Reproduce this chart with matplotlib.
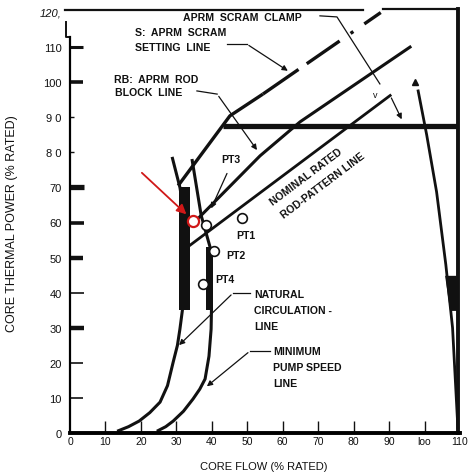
# BWR power/flow map with operating points PT1..PT4
import matplotlib
matplotlib.use('Agg')
import matplotlib.pyplot as plt

plt.rcParams['font.family'] = ['Liberation Sans', 'DejaVu Sans']

# %% Lines (x = core flow %, y = core thermal power %)
natcirc_flow = [13.3, 16.5, 19.5, 22.5, 25.4, 27.5, 29.1, 30.3, 31.0, 31.7, 32.2, 32.3, 31.0, 28.8]
natcirc_power = [0.5, 1.8, 3.4, 5.8, 8.8, 13.5, 20.2, 25.0, 29.6, 35.0, 45.0, 62.0, 70.0, 78.7]

pump_flow = [24.5, 27.0, 29.1, 32.0, 34.7, 36.6, 38.1, 39.2, 39.8, 39.9, 39.5, 37.0, 34.4]
pump_power = [0.5, 1.8, 3.4, 6.2, 9.7, 12.5, 15.4, 21.9, 29.6, 35.0, 53.0, 62.0, 78.1]

scram_flow = [30.5, 45.1, 54.4]
scram_power = [70.5, 90.4, 96.6]
scram_dash_flow = [54.4, 88.3]
scram_dash_power = [96.6, 120.3]

rodblock_flow = [35.5, 53.6, 64.9, 95.9]
rodblock_power = [60.5, 79.0, 88.7, 110.0]

nominal_flow = [32.5, 90.3]
nominal_power = [52.5, 96.2]

highflow_flow = [98.2, 100.6, 103.4, 106.0, 107.9, 109.4]
highflow_power = [97.5, 85.0, 68.7, 48.0, 30.0, 1.5]

clamp_flow = [43.2, 109.3]
clamp_power = [87.4, 87.4]

# thick marks on the lines
bar_flow = [32.3, 39.3]
bar_width = [3.1, 2.0]
bar_low = [35.0, 35.0]
bar_high = [70.0, 53.0]
slant_flow = [105.8, 109.1, 109.7, 107.2]
slant_power = [44.8, 44.8, 34.8, 34.8]

# operating points
pt_names = ['PT1', 'PT2', 'PT3', 'PT4']
pt_flow = [48.5, 40.6, 38.4, 37.5]
pt_power = [61.3, 51.9, 59.3, 42.5]
event_flow = [34.7]
event_power = [60.4]

# axis ticks
xticks = list(range(0, 111, 10))
xtick_labels = ['0', '10', '20', '30', '40', '50', '60', '70', '80', '90', 'loo', '110']
yticks = list(range(0, 121, 10))
ytick_labels = ['0', '10', '20', '30', '40', '50', '60', '70', '8 0', '9 0', '100', '110', '120,']

# %% Plot
ink = '#111111'
fs = 7.6
fw = 'bold'

fig = plt.figure(figsize=(4.68, 4.77), dpi=100)
ax = fig.add_axes([70/468, 43/477, 390/468, 421/477])
ax.set_xlim(0, 110)
ax.set_ylim(0, 120)

ax.plot(natcirc_flow, natcirc_power, color=ink, lw=2.2, solid_capstyle='butt')
ax.plot(pump_flow, pump_power, color=ink, lw=2.2, solid_capstyle='butt')
ax.plot(scram_flow, scram_power, color=ink, lw=2.4, solid_capstyle='butt')
ax.plot(scram_dash_flow, scram_dash_power, color=ink, lw=2.4,
        dashes=(13, 3, 12, 4, 1, 4, 6, 2), solid_capstyle='butt', clip_on=False)
ax.plot(rodblock_flow, rodblock_power, color=ink, lw=2.2)
ax.plot(nominal_flow, nominal_power, color=ink, lw=2.0)
ax.plot(highflow_flow, highflow_power, color=ink, lw=2.0)
ax.plot(clamp_flow, clamp_power, color=ink, lw=3.8, solid_capstyle='butt')
ax.plot(highflow_flow[0] - 0.8, highflow_power[0] + 2.6, marker='^', ms=4.5, color=ink)

ax.bar(bar_flow, [h - l for h, l in zip(bar_high, bar_low)], width=bar_width,
       bottom=bar_low, color=ink, lw=0)
ax.fill(slant_flow, slant_power, color=ink, lw=0)

ax.plot(pt_flow, pt_power, 'o', ms=7, mfc='white', mec=ink, mew=1.2, ls='none')
ax.plot(event_flow, event_power, 'o', ms=8, mfc='white', mec='#d01818', mew=1.6, ls='none', zorder=5)
ax.annotate('', xy=(event_flow[0] - 1.3, event_power[0] + 1.4), xytext=(19.7, 74.7),
            arrowprops=dict(arrowstyle='-|>', color='#d01818', lw=1.3, mutation_scale=14))

# frame
ax.spines['top'].set_visible(False)
ax.spines['right'].set_visible(False)
ax.spines['left'].set_linewidth(1.6)
ax.spines['left'].set_bounds(0, 113)
ax.spines['bottom'].set_linewidth(2.8)
ax.plot([0, -1.2, -1.2], [113, 113, 117.2], color=ink, lw=1.4, clip_on=False)
ax.plot([-1.4, 82.7], [120.6, 120.6], color=ink, lw=1.6, clip_on=False)
ax.plot([88.3, 109.3], [120.9, 120.9], color=ink, lw=1.6, clip_on=False)
ax.plot([109.3, 109.3], [0, 120.9], color=ink, lw=2.8, clip_on=False)

ax.set_xticks(xticks, xtick_labels, fontsize=7.5)
ax.set_yticks(yticks, ytick_labels, fontsize=8)
ax.tick_params(axis='x', direction='in', length=8.5, width=1.0, pad=2.5, colors=ink)
ax.tick_params(axis='y', direction='in', length=9, width=1.0, pad=6, colors=ink)
ytick_len = [0, 9, 9, 10, 10, 9, 10, 10, 3, 3, 9, 9, 0]
ytick_wid = [1, 1.2, 1.2, 3.2, 1.2, 3.2, 2.6, 3.8, 1.0, 1.0, 2.6, 2.2, 1]
for t, ln, w in zip(ax.yaxis.get_major_ticks(), ytick_len, ytick_wid):
    t.tick1line.set_markersize(ln)
    t.tick1line.set_markeredgewidth(w)
ax.yaxis.get_major_ticks()[11].tick1line.set_color('#777777')
ax.yaxis.get_major_ticks()[12].label1.set_style('italic')
for i in (0, len(xticks) - 1):
    ax.xaxis.get_major_ticks()[i].tick1line.set_visible(False)

ax.set_xlabel('CORE FLOW (% RATED)', fontsize=8, color=ink)
ax.xaxis.set_label_coords(0.497, -0.067)
ax.set_ylabel('CORE THERMAL POWER (% RATED)', fontsize=9, color=ink)
ax.yaxis.set_label_coords(-0.133, 0.5)

# labels and leaders
lead = dict(color=ink, lw=0.9)
arr = dict(arrowstyle='-|>', color=ink, lw=0.9, mutation_scale=8)
txt = dict(fontsize=fs, fontweight=fw, va='center', color=ink)

ax.text(31.9, 118.6, 'APRM  SCRAM  CLAMP', **txt)
ax.plot([70.5, 75.3, 87.4], [118.9, 118.6, 99.5], **lead)
ax.text(86.0, 96.6, 'v', fontsize=6.5, ha='center', va='center', color=ink)

ax.text(18.3, 114.3, 'S:  APRM  SCRAM', **txt)
ax.text(18.3, 110.0, 'SETTING  LINE', **txt)
ax.plot([44.2, 49.8], [110.9, 110.9], **lead)
ax.annotate('', xy=(62.1, 102.8), xytext=(49.8, 110.9), arrowprops=arr)

ax.text(12.4, 100.9, 'RB:  APRM  ROD', **txt)
ax.text(12.7, 97.2, 'BLOCK  LINE', **txt)
ax.plot([35.8, 41.5], [97.5, 96.6], **lead)
ax.annotate('', xy=(53.2, 80.0), xytext=(41.5, 96.6), arrowprops=arr)

ax.annotate('', xy=(93.9, 88.7), xytext=(90.3, 96.2), arrowprops=arr)

ax.text(66.6, 73.1, 'NOMINAL RATED', rotation=37, ha='center', rotation_mode='anchor', **txt)
ax.text(71.2, 70.6, 'ROD-PATTERN LINE', rotation=37, ha='center', rotation_mode='anchor', **txt)

pt_text_flow = [46.8, 44.0, 42.6, 40.9]
pt_text_power = [56.4, 50.7, 78.1, 43.9]
for name, tx, ty in zip(pt_names, pt_text_flow, pt_text_power):
    ax.text(tx, ty, name, **txt)
ax.annotate('', xy=(39.5, 63.3), xytext=(44.6, 74.7), arrowprops=arr)

ax.text(51.9, 39.6, 'NATURAL', **txt)
ax.text(51.9, 35.1, 'CIRCULATION -', **txt)
ax.text(51.9, 30.5, 'LINE', **txt)
ax.plot([50.8, 46.0], [39.9, 39.9], **lead)
ax.annotate('', xy=(30.2, 24.5), xytext=(46.0, 39.9), arrowprops=arr)

ax.text(57.3, 23.4, 'MINIMUM', **txt)
ax.text(57.3, 18.8, 'PUMP SPEED', **txt)
ax.text(57.3, 14.3, 'LINE', **txt)
ax.plot([56.4, 50.8], [23.4, 23.4], **lead)
ax.annotate('', xy=(38.0, 12.8), xytext=(50.8, 23.4), arrowprops=arr)

fig.savefig('out.png', dpi=100)
